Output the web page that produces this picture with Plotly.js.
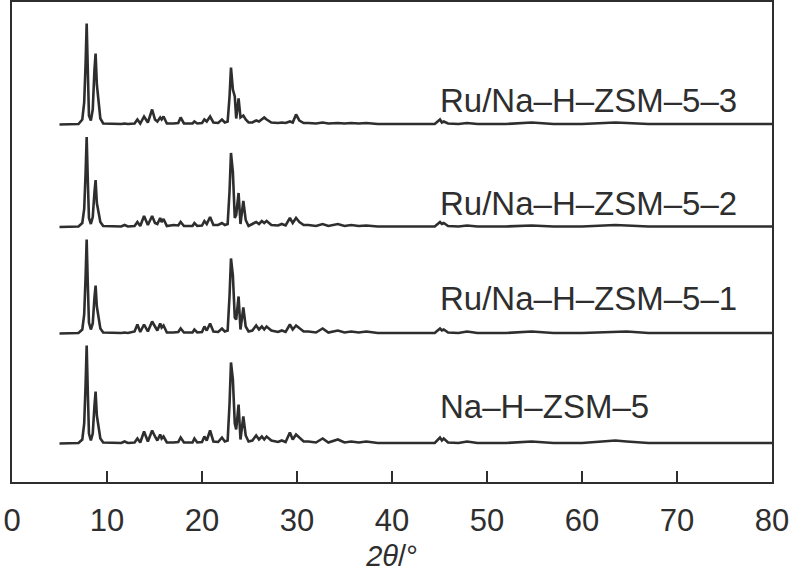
<!DOCTYPE html>
<html>
<head>
<meta charset="utf-8">
<script src="https://cdn.plot.ly/plotly-3.0.1.min.js"></script>
<style>html,body{margin:0;padding:0;background:#fff;}#chart{width:794px;height:577px;}</style>
</head>
<body>
<div id="chart"></div>
<script>
// 2θ positions (degrees) shared by all patterns
const twoTheta = [5, 7.0, 7.4, 7.6, 7.75, 7.86, 7.97, 8.1, 8.3, 8.5, 8.68, 8.8, 8.93, 9.1, 9.3, 9.6,
  10.5, 11.5, 11.85, 12.2, 12.9, 13.2, 13.5, 13.9, 14.3, 14.75, 15.05, 15.3, 15.6, 15.75, 15.95, 16.3,
  17.0, 17.5, 17.75, 18.1, 19.0, 19.2, 19.5, 20.0, 20.25, 20.5, 20.85, 21.2, 21.7, 22.1, 22.4, 22.7,
  22.9, 23.05, 23.25, 23.45, 23.6, 23.85, 24.05, 24.35, 24.6, 24.9, 25.3, 25.7, 26.0, 26.3, 26.55, 26.8,
  27.3, 28.0, 28.4, 28.8, 29.25, 29.55, 29.9, 30.25, 30.7, 31.2, 32.0, 32.7, 33.3, 34.3, 35.0, 35.7,
  36.5, 37.3, 38.5, 40, 42, 44.5, 45.05, 45.25, 45.45, 45.9, 47, 47.9, 49, 52, 54.7, 57,
  60, 63.5, 64.7, 67, 72, 76, 80];

// intensities (a.u.) above each pattern's baseline
const naHZSM5 = [0, 0.5, 4, 20, 60, 98, 55, 10, 3, 10, 38, 52, 28, 18, 5, 1,
  0.5, 0.5, 2, 0.5, 1, 5, 1, 12, 2, 13, 7, 3, 9, 5, 7, 1,
  1, 1.5, 6, 1, 1, 5, 1, 1.5, 7, 3, 13, 2, 1.5, 6, 2, 3,
  40, 81, 64, 20, 14, 39, 4, 27, 8, 2, 3, 8, 4, 7, 4, 7,
  3, 1.5, 3, 1.5, 11, 4, 9, 6, 2, 2, 1, 5, 1, 4, 1, 2,
  1, 2, 0.5, 0.5, 0.5, 0.5, 6, 3, 5, 1, 0.5, 2, 0.5, 0.5, 2, 0.5,
  0.5, 3, 2, 0.5, 0.5, 0.5, 0.5];

const ru1 = [0, 0.5, 4, 19, 58, 94, 52, 11, 4, 10, 36, 48, 27, 18, 5, 1,
  0.5, 0.5, 1, 0.5, 2, 9, 1.5, 9, 2, 12, 7, 3, 10, 6, 8, 1,
  1, 1.5, 5, 1, 1, 4, 1, 1.5, 7, 3, 10, 2, 1.5, 5, 2, 3,
  38, 75, 58, 16, 14, 37, 4, 26, 7, 2, 3, 8, 4, 7, 4, 7,
  3, 1.5, 3, 1.5, 9, 4, 8, 5, 2, 2, 1, 5, 1, 3, 1, 2,
  1, 2, 0.5, 0.5, 0.5, 0.5, 5, 3, 4, 1, 0.5, 2, 0.5, 0.5, 2, 0.5,
  0.5, 2, 2, 0.5, 0.5, 0.5, 0.5];

const ru2 = [0, 0.5, 4, 18, 55, 90, 50, 9, 3, 10, 35, 47, 24, 15, 5, 1,
  0.5, 0.5, 2, 0.5, 1, 5, 1, 11, 2, 11, 4, 3, 9, 5, 8, 1,
  2, 1.5, 5, 1, 1, 4, 1, 1.5, 6, 3, 10, 2, 2, 4, 2, 3,
  36, 74, 55, 9, 12, 34, 3, 26, 7, 1, 3, 5, 3, 6, 4, 6,
  2, 1.5, 3, 1.5, 9, 4, 9, 5, 2, 2, 1, 3, 1, 3, 1, 2,
  1, 1.5, 0.5, 0.5, 0.5, 0.5, 5, 3, 4, 1, 0.5, 1.5, 0.5, 0.5, 1.5, 0.5,
  0.5, 2, 1.5, 0.5, 0.5, 0.5, 0.5];

const ru3 = [0, 0.5, 5, 22, 62, 101, 58, 9, 4, 15, 55, 71, 40, 22, 6, 1,
  0.5, 0.5, 1, 0.5, 1, 5, 1, 8, 2, 15, 5, 3, 7, 5, 8, 1,
  1, 1.5, 7, 1, 1, 3, 1, 1.5, 5, 3, 8, 2, 1.5, 5, 2, 3,
  28, 57, 35, 28, 6, 26, 7, 9, 5, 2, 2, 4, 3, 5, 7, 5,
  2, 1.5, 2, 1.5, 3, 2, 10, 4, 1.5, 1.5, 1, 2, 1, 1.5, 1, 1.5,
  1, 1.5, 0.5, 0.5, 0.5, 0.5, 5, 2, 3, 1, 0.5, 1.5, 0.5, 0.5, 2, 0.5,
  0.5, 2, 1.5, 0.5, 0.5, 0.5, 0.5];

const seriesNames = ['Na–H–ZSM–5', 'Ru/Na–H–ZSM–5–1', 'Ru/Na–H–ZSM–5–2', 'Ru/Na–H–ZSM–5–3'];
const seriesValues = [naHZSM5, ru1, ru2, ru3];
const stackOffsets = [38.5, 148.5, 255, 357.5];
const labelY = [76, 184, 279, 382];
const xTicks = [0, 10, 20, 30, 40, 50, 60, 70, 80];

const ink = '#2e2e2e';
const traces = seriesValues.map((vals, i) => ({
  x: twoTheta,
  y: vals.map(v => v + stackOffsets[i]),
  type: 'scatter',
  mode: 'lines',
  name: seriesNames[i],
  line: {color: ink, width: 2.6},
  hoverinfo: 'skip'
}));

const annotations = seriesNames.map((n, i) => ({
  x: 44.8, y: labelY[i], xref: 'x', yref: 'y',
  text: n, showarrow: false, xanchor: 'left', yanchor: 'middle',
  font: {family: 'Liberation Sans, Arial, sans-serif', size: 33, color: ink}
}));

const layout = {
  width: 794, height: 577,
  margin: {l: 12, r: 22, t: 2, b: 95},
  paper_bgcolor: '#fff', plot_bgcolor: '#fff',
  showlegend: false,
  font: {family: 'Liberation Sans, Arial, sans-serif', color: ink},
  xaxis: {
    range: [0, 80], tickvals: xTicks, ticktext: xTicks.map(String),
    ticks: 'inside', ticklen: 11, tickwidth: 1.5, tickcolor: ink,
    ticklabelstandoff: 10,
    showline: true, linewidth: 2, linecolor: ink, mirror: true,
    showgrid: false, zeroline: false,
    tickfont: {size: 31, color: ink},
    title: {text: '<i>2θ</i>/°', font: {size: 29, color: ink}, standoff: 8}
  },
  yaxis: {
    range: [0, 480], showticklabels: false, ticks: '',
    showline: true, linewidth: 2, linecolor: ink, mirror: true,
    showgrid: false, zeroline: false
  },
  annotations: annotations
};

Plotly.newPlot('chart', traces, layout, {staticPlot: true, displayModeBar: false});
</script>
</body>
</html>
